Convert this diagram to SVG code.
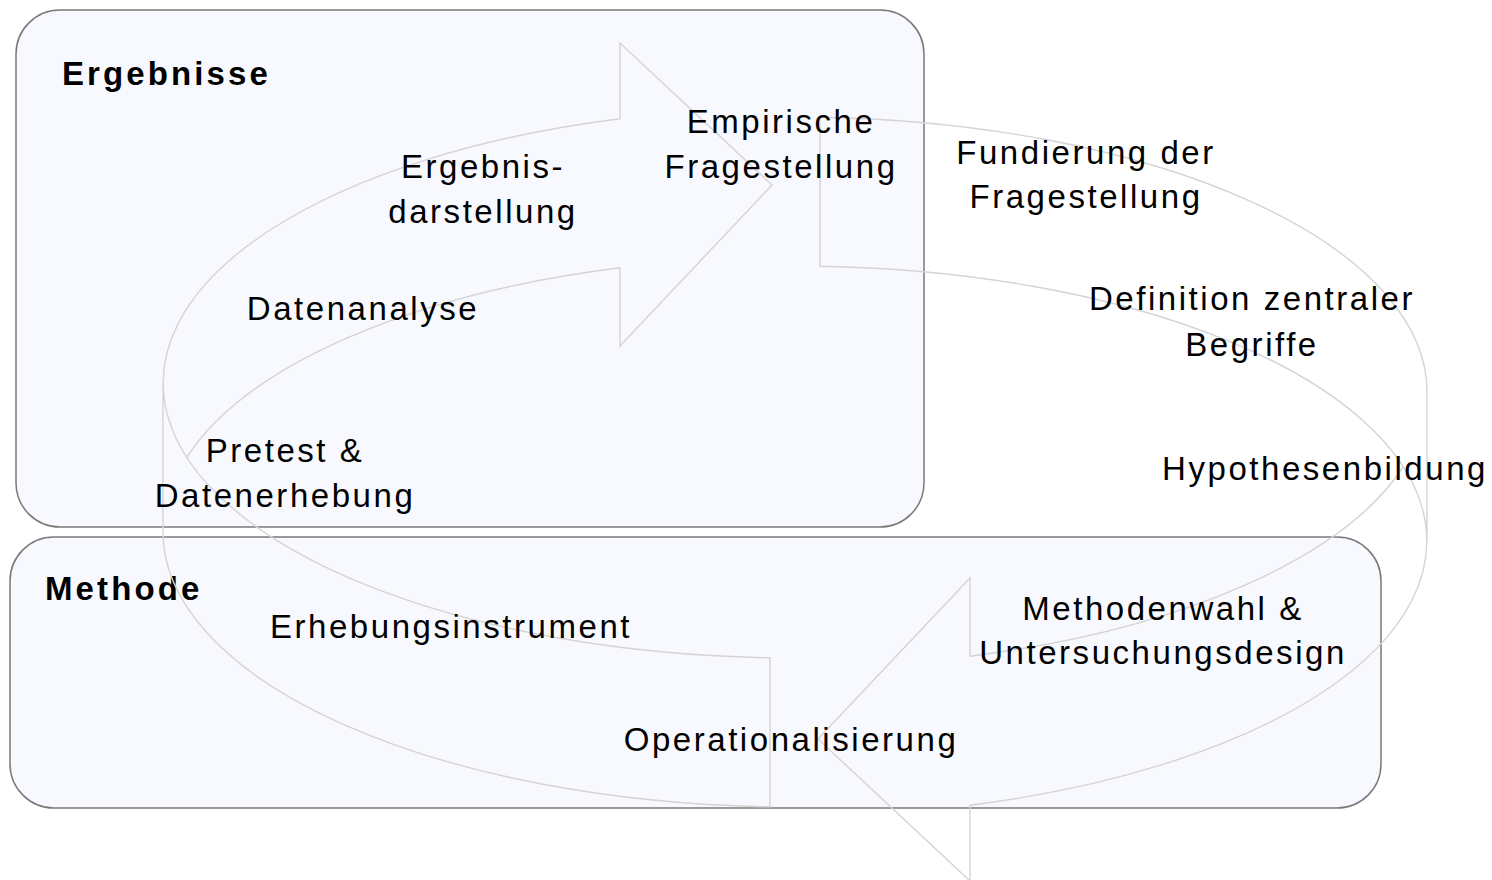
<svg xmlns="http://www.w3.org/2000/svg" xmlns:xlink="http://www.w3.org/1999/xlink" width="1492" height="880" viewBox="0 0 1492 880">
<style>
.box{fill:#f8f9fe;stroke:#7a7a7a;stroke-width:1.5}
.arr{fill:none;stroke:#d4d4d4;stroke-width:1.4;stroke-linejoin:miter}
.t{font-family:"Liberation Sans",Arial,sans-serif;font-size:33px;fill:#000;letter-spacing:2.55px;text-anchor:middle}
.h{font-family:"Liberation Sans",Arial,sans-serif;font-size:33px;font-weight:bold;fill:#000;letter-spacing:3.1px}
</style>
<defs>
<path id="arrowL" d="M620,267.8 L620,346 L772,185 L620,43 L620,118.8 A632,275 0 0,0 770,657.8 L770,806.8 A632,275 0 0,1 163,532 L163,383 M186.6,457.5 A632,275 0 0,1 620,267.8"/>
</defs>
<rect width="1492" height="880" fill="#ffffff"/>
<g id="ergebnisse">
<rect class="box" x="16" y="10" width="908" height="517" rx="44"/>
<text class="h" x="62" y="85">Ergebnisse</text>
</g>
<g id="methode">
<rect class="box" x="10" y="537" width="1371" height="271" rx="44"/>
<text class="h" x="45" y="600">Methode</text>
</g>
<g id="connectors">
<use class="arr" href="#arrowL" xlink:href="#arrowL"/>
<use class="arr" href="#arrowL" xlink:href="#arrowL" transform="rotate(180 795 462)"/>
</g>
<g id="empirische-fragestellung">
<text class="t" x="781" y="133">Empirische</text>
<text class="t" x="781" y="178">Fragestellung</text>
</g>
<g id="fundierung">
<text class="t" x="1086" y="164">Fundierung der</text>
<text class="t" x="1086" y="208">Fragestellung</text>
</g>
<g id="definition">
<text class="t" x="1252" y="310">Definition zentraler</text>
<text class="t" x="1252" y="356">Begriffe</text>
</g>
<g id="hypothesenbildung">
<text class="t" x="1325" y="480">Hypothesenbildung</text>
</g>
<g id="methodenwahl">
<text class="t" x="1163" y="620">Methodenwahl &amp;</text>
<text class="t" x="1163" y="664">Untersuchungsdesign</text>
</g>
<g id="operationalisierung">
<text class="t" x="791" y="751">Operationalisierung</text>
</g>
<g id="erhebungsinstrument">
<text class="t" x="451" y="638">Erhebungsinstrument</text>
</g>
<g id="pretest">
<text class="t" x="285" y="462">Pretest &amp;</text>
<text class="t" x="285" y="507">Datenerhebung</text>
</g>
<g id="datenanalyse">
<text class="t" x="363" y="320">Datenanalyse</text>
</g>
<g id="ergebnisdarstellung">
<text class="t" x="483" y="178">Ergebnis-</text>
<text class="t" x="483" y="223">darstellung</text>
</g>
</svg>
